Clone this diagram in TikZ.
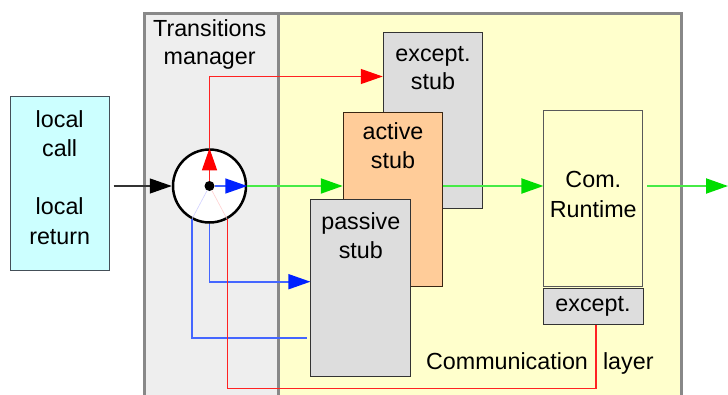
\documentclass[tikz,border=0pt]{standalone}
\usepackage{fontspec}
\setmainfont{Liberation Sans}
\usetikzlibrary{arrows.meta,positioning}

\definecolor{panelgray}{HTML}{888888}
\definecolor{tmfill}{HTML}{EEEEEE}
\definecolor{layerfill}{HTML}{FFFFCC}
\definecolor{localfill}{HTML}{CCFFFF}
\definecolor{stubfill}{HTML}{DDDDDD}
\definecolor{activefill}{HTML}{FFCC99}
\definecolor{linered}{HTML}{FF2222}
\definecolor{headred}{HTML}{FF0000}
\definecolor{lineblue}{HTML}{4466FF}
\definecolor{headblue}{HTML}{0022FF}
\definecolor{flowgreen}{RGB}{70,235,70}
\definecolor{headgreen}{HTML}{00DD00}
\definecolor{faintblue}{HTML}{D0D0FF}
\definecolor{faintred}{HTML}{FFD0D0}

\begin{document}
\begin{tikzpicture}[x=1pt, y=-1pt,
  every node/.style={font=\fontsize{23.3}{29.3}\selectfont},
  panel/.style={draw=panelgray, line width=2.5pt, anchor=north west, inner sep=0pt, minimum height=420pt},
  box/.style={draw=black!80, line width=1pt, inner sep=0pt, align=center},
  stubtext/.style={anchor=north, align=center, inner sep=0pt, yshift=-#1},
  tipto/.style={-{Triangle[length=22pt,width=15pt,color=#1]}},
  redline/.style={draw=linered, line width=1.3pt},
  blueline/.style={draw=lineblue, line width=1.6pt},
  flowline/.style={color=flowgreen, line width=2pt}]
\useasboundingbox (0,0) rectangle (728,394);
\clip (0,0) rectangle (728,394);

\node[panel, fill=tmfill, minimum width=134pt] (tm) at (143,12) {};
\node[panel, fill=layerfill, minimum width=403pt] (layer) at (277,12) {};
\node[align=center] (tmtitle) at (209.7,44.5) {Transitions\\[-2pt]manager};

\node[box, draw=black!75!cyan, fill=localfill, minimum width=99pt, minimum height=174pt,
  label={[align=center, yshift=5.5pt]center:{local\\call\\[29pt]local\\return}}] (local) at (59.7,183) {};
\node[box, fill=stubfill, minimum width=99.5pt, minimum height=176pt,
  label={[stubtext=14pt]north:{except.\\[-1pt]stub}}] (exstub) at (433,120.3) {};
\node[box, draw=black!70!brown, fill=activefill, minimum width=99.5pt, minimum height=174.4pt,
  label={[stubtext=11pt]north:{active\\[-1pt]stub}}] (active) at (393,199.5) {};
\node[box, fill=stubfill, minimum width=99.7pt, minimum height=176.7pt,
  label={[stubtext=13pt]north:{passive\\stub}}] (passive) at (360.8,288.3) {};
\node[box, draw=black!65, fill=layerfill, minimum width=98.7pt, minimum height=176pt,
  label={[align=center, yshift=3.5pt]center:{Com.\\Runtime}}] (runtime) at (593.3,198) {};
\node[box, fill=stubfill, minimum width=100pt, minimum height=35.7pt] (exbox) at (593,306.2) {except.};

\node[anchor=base] (commtext) at (507,369.3) {Communication};
\node[anchor=base] (layertext) at (628.3,369.3) {layer};

\node[circle, draw=black, line width=2.5pt, fill=white, minimum size=73pt, inner sep=0pt] (hub) at (209.5,186) {};
\node[circle, fill=black, minimum size=10pt, inner sep=0pt] (hubdot) at (hub.center) {};

\draw[draw=faintblue, line width=0.6pt] (hubdot) -- (hub.242);
\draw[draw=faintred, line width=0.6pt] (hubdot) -- (hub.298);

\draw[draw=black!80, line width=1.3pt, tipto=black, shorten <=4pt] (local.east |- hub) -- (hub.west);
\draw[redline, tipto=headred] (hubdot) -- (hub.north);
\draw[blueline, tipto=headblue] (hubdot) -- (hub.east);
\draw[redline, tipto=headred] (hub.north) |- ([yshift=43.8pt]exstub.west);
\draw[flowline, tipto=headgreen] (hub.east) -- (active.west |- hub);
\draw[flowline, tipto=headgreen] (active.east |- hub) -- (runtime.west |- hub);
\coordinate (exit) at (728,186);
\draw[flowline, tipto=headgreen, shorten <=4pt] (runtime.east |- hub) -- (exit);
\draw[blueline, tipto=headblue] (hub.south) |- ([yshift=6.6pt]passive.west);
\draw[blueline, shorten >=3.5pt] (hub.242) |- ([yshift=-49.4pt]passive.west);
\draw[redline] (hub.298) -- ++(0,169) -| ([xshift=3pt]exbox.south);
\end{tikzpicture}
\end{document}
